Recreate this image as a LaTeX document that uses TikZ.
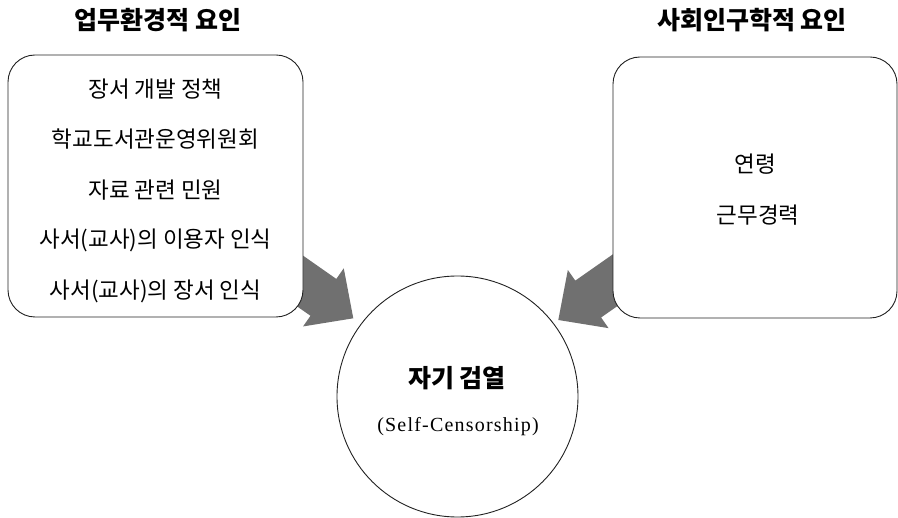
\documentclass[tikz,border=0pt]{standalone}
\usepackage{fontspec}
\setmainfont{Liberation Serif}
\newfontfamily\kr{Noto Sans CJK KR}
\definecolor{arrowgray}{HTML}{707070}
\definecolor{linecol}{HTML}{222222}
\begin{document}
\begin{tikzpicture}[x=1pt,y=-1pt,
  box/.style={draw=linecol,line width=0.9pt,rounded corners=27pt,fill=white,inner sep=0pt},
  txt/.style={font=\kr\fontsize{22.5}{26}\selectfont,inner sep=0pt,text=black},
  ttl/.style={font=\kr\bfseries\fontsize{25}{28}\selectfont,inner sep=0pt,text=black},
  blockarrow/.style={fill=arrowgray,draw=none}]
\useasboundingbox (0,0) rectangle (898,518);
% block arrows (tails hidden behind the boxes)
\begin{scope}[shift={(353.3,318.3)},rotate=-35]
  \fill[blockarrow] (0,0) -- (-36.5,35.5) -- (-36.5,22.5) -- (-160,22.5) -- (-160,-22.5) -- (-36.5,-22.5) -- (-36.5,-35.5) -- cycle;
\end{scope}
\begin{scope}[shift={(558.3,320)},rotate=-145]
  \fill[blockarrow] (0,0) -- (-36.5,35.5) -- (-36.5,22.5) -- (-160,22.5) -- (-160,-22.5) -- (-36.5,-22.5) -- (-36.5,-35.5) -- cycle;
\end{scope}
% boxes
\node[box,minimum width=295pt,minimum height=262pt] (lbox) at (155.5,186) {};
\node[box,minimum width=284pt,minimum height=261pt] (rbox) at (755,187.5) {};
% circle
\node[draw=linecol,line width=0.9pt,circle,minimum size=241pt,inner sep=0pt,fill=white] (core) at (457.5,396.5) {};
% titles
\node[ttl] (lt) at (158,20) {업무환경적 요인};
\node[ttl] (rt) at (752,20) {사회인구학적 요인};
% left box text
\node[txt] (l1) at (155.5,89) {장서 개발 정책};
\node[txt] (l2) at (155.5,139.5) {학교도서관운영위원회};
\node[txt] (l3) at (155.5,190) {자료 관련 민원};
\node[txt] (l4) at (155.5,240.5) {사서(교사)의 이용자 인식};
\node[txt] (l5) at (155.5,291) {사서(교사)의 장서 인식};
% right box text
\node[txt] (r1) at (755,164) {연령};
\node[txt] (r2) at (758,215) {근무경력};
% circle text
\node[ttl] (c1) at (457,378) {자기 검열};
\node[font=\fontsize{20}{23}\selectfont\addfontfeature{LetterSpace=6},inner sep=0pt] (c2) at (458,427) {(Self-Censorship)};
\end{tikzpicture}
\end{document}
